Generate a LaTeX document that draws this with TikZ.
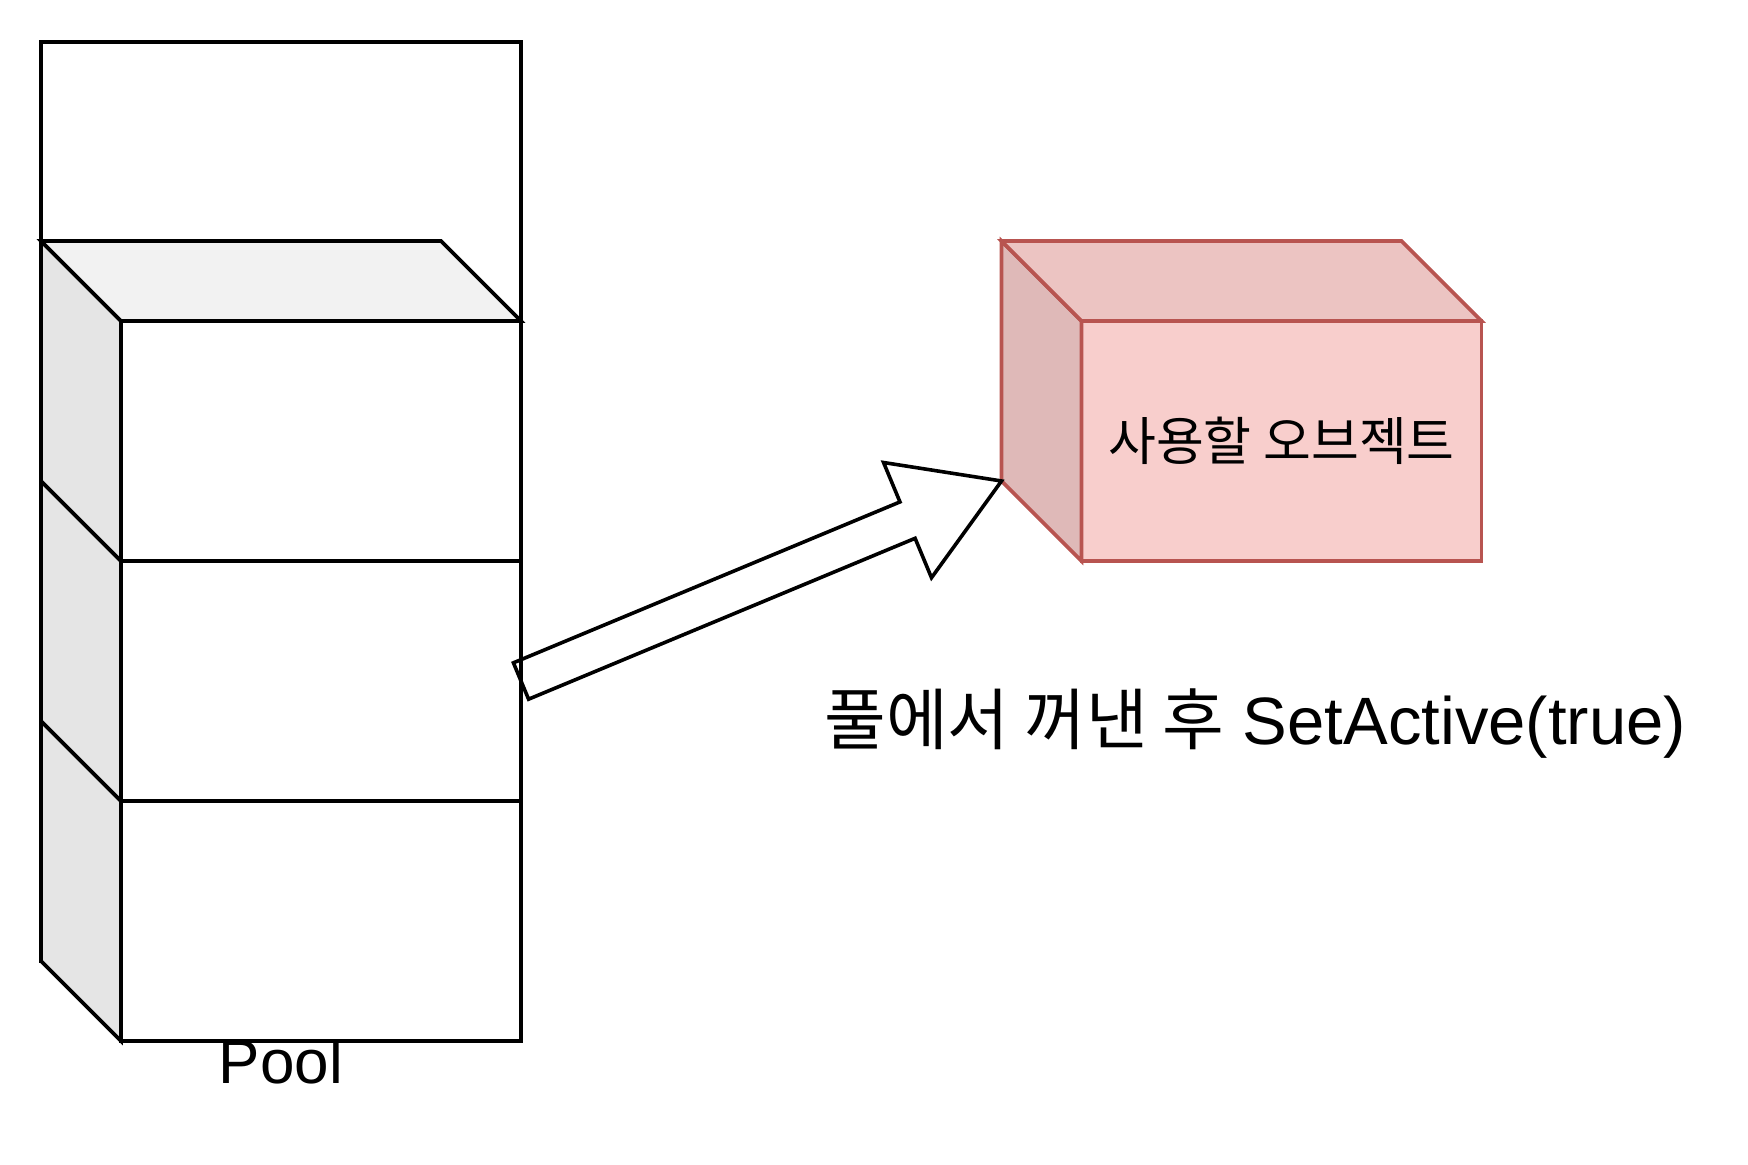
\documentclass[tikz,border=0pt]{standalone}
\usepackage{fontspec}
\setmainfont{Liberation Sans}
\newfontfamily\krfont{Noto Sans CJK KR}
\usepackage{tikz}
\usetikzlibrary{positioning,calc}
\definecolor{objfill}{HTML}{F8CECC}
\definecolor{objline}{HTML}{B85450}

\begin{document}
\begin{tikzpicture}[
  line width=1.8pt,
  poolback/.style={draw, fill=white, minimum width=240pt, minimum height=459.5pt,
    inner sep=0pt, outer sep=0pt},
  poolface/.style={draw, fill=white, minimum width=200pt, minimum height=120pt,
    inner sep=0pt, outer sep=0pt},
  poolside/.style={draw, fill=black!10},
  pooltop/.style={draw, fill=black!5},
  objface/.style={draw=objline, fill=objfill, minimum width=200pt, minimum height=120pt,
    inner sep=0pt, outer sep=0pt, font=\krfont\fontsize{26}{31}\selectfont},
  objside/.style={draw=objline, fill=objfill!90!black},
  objtop/.style={draw=objline, fill=objfill!95!black},
  bigarrow/.style={draw, line join=miter},
]
\useasboundingbox (0,0) rectangle (874pt,582pt);
\node[poolback] (pool) at (140.5pt,331.25pt) {};
\node[anchor=base, font=\fontsize{31}{37}\selectfont] (poolname) at (140.5pt,40.2pt) {Pool};
\node[poolface] (c1) at (160.5pt,361.5pt) {};
\node[poolface, below=0pt of c1] (c2) {};
\node[poolface, below=0pt of c2] (c3) {};
\foreach \c in {c3,c2,c1}
  \draw[poolside] (\c.north west) -- ++(-40pt,40pt) -- ($(\c.south west)+(-40pt,40pt)$)
    -- (\c.south west) -- cycle;
\draw[pooltop] (c1.north west) -- ++(-40pt,40pt) -- ($(c1.north east)+(-40pt,40pt)$)
  -- (c1.north east) -- cycle;

\node[objface] (obj) at (640.75pt,361.5pt) {사용할 오브젝트};
\draw[objside] (obj.north west) -- ++(-40pt,40pt) -- ($(obj.south west)+(-40pt,40pt)$)
  -- (obj.south west) -- cycle;
\draw[objtop] (obj.north west) -- ++(-40pt,40pt) -- ($(obj.north east)+(-40pt,40pt)$)
  -- (obj.north east) -- cycle;

\coordinate (tail) at (c2.east);
\coordinate (tip) at ($(obj.south west)+(-40pt,40pt)$);
\coordinate (head) at ($(tip)!50.9pt!(tail)$);
\draw[bigarrow] ($(tail)!9.85pt!90:(tip)$) -- ($(head)!9.85pt!90:(tip)$)
  -- ($(head)!31.2pt!90:(tip)$) -- (tip) -- ($(head)!31.2pt!-90:(tip)$)
  -- ($(head)!9.85pt!-90:(tip)$) -- ($(tail)!9.85pt!-90:(tip)$) -- cycle;

\node[anchor=base, font=\fontsize{33.5}{40}\selectfont] (takeout) at (627.6pt,209.7pt)
  {{\krfont 풀에서 꺼낸 후} SetActive(true)};
\end{tikzpicture}
\end{document}
